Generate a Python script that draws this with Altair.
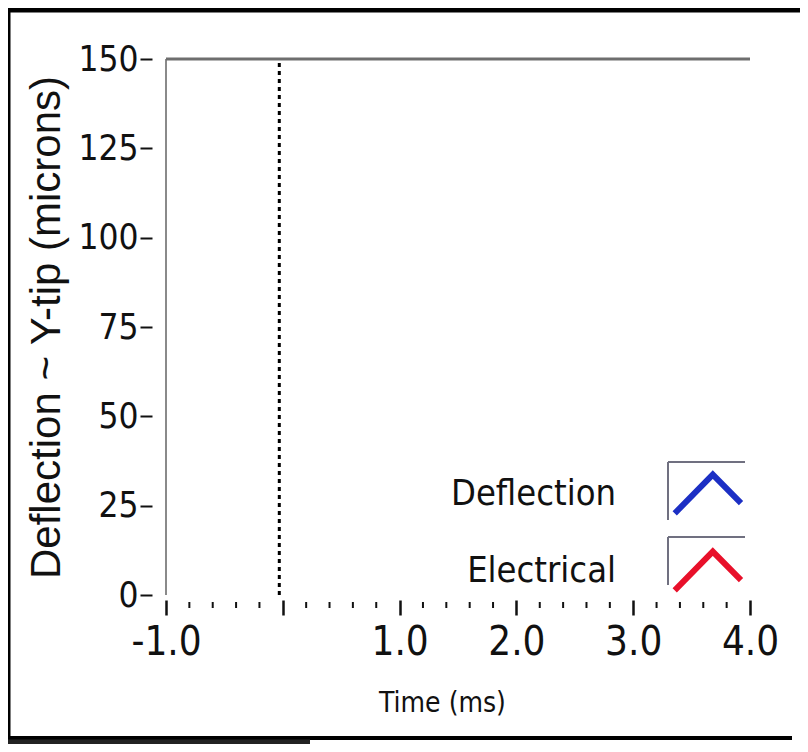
import altair as alt
import pandas as pd

# ---- data ----
series_names = ["Deflection", "Electrical"]
series_colors = ["#1c2fc4", "#e8102a"]
# no visible trace points in the reference
deflection_time = []
deflection_vals = []
electrical_time = []
electrical_vals = []

x_major = [-1.0, 0.0, 1.0, 2.0, 3.0, 4.0]
x_minor = [-0.8, -0.6, -0.4, -0.2, 0.2, 0.4, 0.6, 0.8, 1.2, 1.4, 1.6, 1.8,
           2.2, 2.4, 2.6, 2.8, 3.2, 3.4, 3.6, 3.8]
y_ticks = [0, 25, 50, 75, 100, 125, 150]
x_domain = [-1.0, 4.0]
y_domain = [0, 150]
cursor_x = [-0.03]

NARROW = "Liberation Sans Narrow, DejaVu Sans Condensed, Liberation Sans"
W, H = 584, 536

lines_df = pd.DataFrame({
    "t": deflection_time + electrical_time,
    "v": deflection_vals + electrical_vals,
    "series": ["Deflection"] * len(deflection_time) + ["Electrical"] * len(electrical_time),
})

xs = alt.Scale(domain=x_domain, nice=False, zero=False)
ys = alt.Scale(domain=y_domain, nice=False, zero=False)

X_AXIS = alt.Axis(
    values=x_major,
    labelExpr="datum.value == 0 ? '' : (datum.value < 0 ? '-' : '') + format(abs(datum.value), '.1f')",
    domain=False, grid=False, tickSize=15, tickWidth=2.5, tickColor="#111",
    offset=5, labelFont=NARROW, labelFontSize=40, labelColor="#111", labelPadding=7,
    labelFlush=False,
    title="Time (ms)", titleFont=NARROW, titleFontSize=28, titleFontWeight="normal",
    titleColor="#111", titleX=276, titleY=103, titleBaseline="middle",
)
Y_AXIS = alt.Axis(
    values=y_ticks, format="d", domain=False, grid=False,
    tickSize=12, tickWidth=2, tickColor="#111", offset=14,
    labelFont=NARROW, labelFontSize=35, labelColor="#111", labelPadding=2,
    labelFlush=False,
    title="Deflection ~ Y-tip (microns)", titleFont="Liberation Sans", titleFontSize=42,
    titleFontWeight="normal", titleColor="#111", titleAngle=-90, titleBaseline="middle",
    titleX=-106, titleY=H / 2,
)

legend = alt.Legend(
    title=None, orient="none", legendX=504, legendY=398,
    symbolType="M-0.95,0.57L0.17,-0.57L1,0.27", symbolSize=4624,
    symbolStrokeWidth=6, symbolFillColor="transparent",
    labelFont=NARROW, labelFontSize=36, labelColor="#111",
    labelAlign="right", labelOffset=alt.ExprRef("-128"), labelLimit=0, rowPadding=8, padding=0,
)

lines = alt.Chart(lines_df).mark_line(strokeWidth=2).encode(
    x=alt.X("t:Q", scale=xs, axis=X_AXIS),
    y=alt.Y("v:Q", scale=ys, axis=Y_AXIS),
    color=alt.Color("series:N", scale=alt.Scale(domain=series_names, range=series_colors), legend=legend),
)

top_df = pd.DataFrame({"t": [x_domain[0]], "t2": [x_domain[1]], "v": [y_domain[1]]})
top = alt.Chart(top_df).mark_rule(color="#6e6e6e", strokeWidth=3).encode(
    x=alt.X("t:Q", scale=xs, axis=X_AXIS), x2="t2:Q",
    y=alt.Y("v:Q", scale=ys, axis=Y_AXIS),
)

left_df = pd.DataFrame({"t": [x_domain[0]], "v": [y_domain[0]], "v2": [y_domain[1]]})
left = alt.Chart(left_df).mark_rule(color="#8a8a8a", strokeWidth=2).encode(
    x=alt.X("t:Q", scale=xs, axis=X_AXIS),
    y=alt.Y("v:Q", scale=ys, axis=Y_AXIS), y2="v2:Q",
)

cur_df = pd.DataFrame({"t": cursor_x, "v": [y_domain[0]], "v2": [y_domain[1]]})
cursor = alt.Chart(cur_df).mark_rule(color="#000", strokeWidth=3, strokeDash=[4, 4]).encode(
    x=alt.X("t:Q", scale=xs, axis=X_AXIS),
    y=alt.Y("v:Q", scale=ys, axis=Y_AXIS), y2="v2:Q",
)

minor_df = pd.DataFrame({"t": x_minor})
minor = alt.Chart(minor_df).mark_rule(color="#111", strokeWidth=2).encode(
    x=alt.X("t:Q", scale=xs, axis=X_AXIS),
    y=alt.value(H + 7), y2=alt.value(H + 13),
)


# ---- decorative frame pieces (legend swatch boxes, window border) ----
def deco_rule(x, x2, y, y2, color, width):
    return alt.Chart(pd.DataFrame({"k": [0]})).mark_rule(color=color, strokeWidth=width).encode(
        x=alt.value(x), x2=alt.value(x2), y=alt.value(y), y2=alt.value(y2)
    )


decos = [
    deco_rule(502, 579, 403, 403, "#707080", 2),
    deco_rule(502, 502, 403, 461, "#707080", 2),
    deco_rule(502, 579, 478, 478, "#707080", 2),
    deco_rule(502, 502, 478, 526, "#707080", 2),
    deco_rule(-158, 634, -49, -49, "#000", 5),
    deco_rule(-157, -157, -51, 685, "#000", 3),
    deco_rule(-158, 626, 679, 679, "#000", 4),
    deco_rule(-158, 144, 684, 684, "#222", 7),
]

chart = alt.layer(lines, left, top, cursor, minor, *decos).properties(
    width=W, height=H,
    autosize=alt.AutoSizeParams(type="none"),
    padding={"left": 158, "top": 51, "right": 50, "bottom": 149},
    background="white",
).configure_view(strokeWidth=0)

chart.save("out.html", embed_options={"renderer": "svg", "actions": False})
